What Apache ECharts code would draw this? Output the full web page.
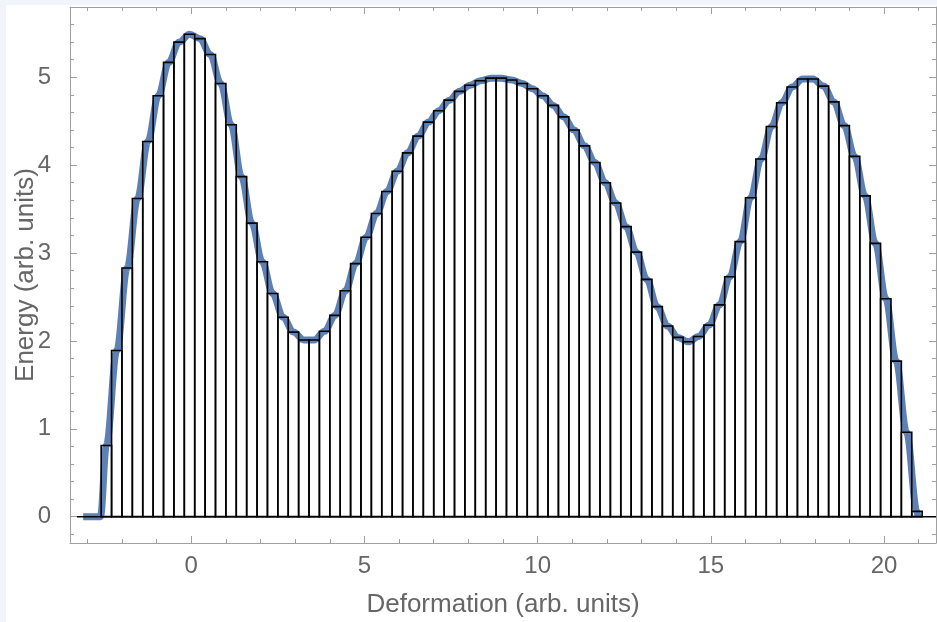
<!DOCTYPE html>
<html>
<head>
<meta charset="utf-8">
<script src="https://cdn.jsdelivr.net/npm/echarts@6/dist/echarts.min.js"></script>
<style>
  html, body { margin:0; padding:0; width:937px; height:622px; overflow:hidden; background:#f1f4fb; }
  #panel { position:absolute; left:6px; top:5px; right:0; bottom:0; background:#ffffff; }
  #chart { position:absolute; left:0; top:0; width:937px; height:622px; }
</style>
</head>
<body>
<div id="panel"></div>
<div id="chart"></div>
<script>
// ---- data ----
const barCenters = [
  -2.45, -2.15, -1.85, -1.55, -1.25, -0.95, -0.65, -0.35, -0.05, 0.25,
  0.55, 0.85, 1.15, 1.45, 1.75, 2.05, 2.35, 2.65, 2.95, 3.25,
  3.55, 3.85, 4.15, 4.45, 4.75, 5.05, 5.35, 5.65, 5.95, 6.25,
  6.55, 6.85, 7.15, 7.45, 7.75, 8.05, 8.35, 8.65, 8.95, 9.25,
  9.55, 9.85, 10.15, 10.45, 10.75, 11.05, 11.35, 11.65, 11.95, 12.25,
  12.55, 12.85, 13.15, 13.45, 13.75, 14.05, 14.35, 14.65, 14.95, 15.25,
  15.55, 15.85, 16.15, 16.45, 16.75, 17.05, 17.35, 17.65, 17.95, 18.25,
  18.55, 18.85, 19.15, 19.45, 19.75, 20.05, 20.35, 20.65, 20.95
];
const barHeights = [
  0.81, 1.89, 2.83, 3.62, 4.27, 4.79, 5.17, 5.40, 5.49, 5.44,
  5.26, 4.93, 4.46, 3.87, 3.34, 2.90, 2.54, 2.27, 2.10, 2.01,
  2.01, 2.11, 2.29, 2.57, 2.88, 3.18, 3.45, 3.70, 3.93, 4.14,
  4.33, 4.49, 4.62, 4.74, 4.84, 4.91, 4.96, 4.99, 4.99, 4.97,
  4.93, 4.87, 4.79, 4.68, 4.55, 4.40, 4.22, 4.03, 3.80, 3.57,
  3.30, 3.01, 2.70, 2.39, 2.17, 2.04, 1.99, 2.05, 2.18, 2.41,
  2.73, 3.13, 3.63, 4.07, 4.44, 4.71, 4.89, 4.98, 4.98, 4.90,
  4.72, 4.45, 4.10, 3.65, 3.11, 2.48, 1.77, 0.96, 0.06
];
// curve: flat start, then passes through the bar tops, ends on zero
const curveStartX = [-3.12, -2.62];
const curveStartY = [0, 0];
const curveEndX = [20.98];
const curveEndY = [0];
const zeroLineX = [-3.3, 21.5];

const xMajorTicks = [0, 5, 10, 15, 20];
const xMinorTicks = [-3, -2, -1, 1, 2, 3, 4, 6, 7, 8, 9, 11, 12, 13, 14, 16, 17, 18, 19, 21];
const yMajorTicks = [0, 1, 2, 3, 4, 5];
const yMinorTicks = [-0.2, 0.2, 0.4, 0.6, 0.8, 1.2, 1.4, 1.6, 1.8, 2.2, 2.4, 2.6, 2.8,
  3.2, 3.4, 3.6, 3.8, 4.2, 4.4, 4.6, 4.8, 5.2, 5.4, 5.6];

const xLabel = 'Deformation (arb. units)';
const yLabel = 'Energy (arb. units)';

// ---- build ----
const BIN = 0.3;
const FRAME = '#a0a0a0';
const TXT = '#666666';
const FONT = 'Liberation Sans, Arial, sans-serif';

const curveData = [];
for (let i = 0; i < curveStartX.length; i++) curveData.push([curveStartX[i], curveStartY[i]]);
for (let i = 0; i < barCenters.length; i++) curveData.push([barCenters[i], barHeights[i]]);
for (let i = 0; i < curveEndX.length; i++) curveData.push([curveEndX[i], curveEndY[i]]);

const barData = barCenters.map((c, i) => [c, barHeights[i]]);

function xAx(pos, ticks, len, labels, line, name) {
  return {
    type: 'value', position: pos, min: -3.5, max: 21.5,
    axisLine: { show: line, onZero: false, lineStyle: { color: FRAME, width: 1 } },
    axisTick: { show: true, inside: true, length: len, customValues: ticks, lineStyle: { color: FRAME, width: 1 } },
    axisLabel: labels ? { show: true, customValues: ticks, color: TXT, fontSize: 24, fontFamily: FONT, margin: 11 } : { show: false },
    splitLine: { show: false },
    name: name || '', nameLocation: 'middle', nameGap: 49, nameMoveOverlap: false,
    nameTextStyle: { color: TXT, fontSize: 26, fontFamily: FONT }
  };
}
function yAx(pos, ticks, len, labels, line, name) {
  return {
    type: 'value', position: pos, min: -0.3, max: 5.8,
    axisLine: { show: line, onZero: false, lineStyle: { color: FRAME, width: 1 } },
    axisTick: { show: true, inside: true, length: len, customValues: ticks, lineStyle: { color: FRAME, width: 1 } },
    axisLabel: labels ? { show: true, customValues: ticks, color: TXT, fontSize: 24, fontFamily: FONT, margin: 19 } : { show: false },
    splitLine: { show: false },
    name: name || '', nameLocation: 'middle', nameGap: 31, nameRotate: 90, nameMoveOverlap: false,
    nameTextStyle: { color: TXT, fontSize: 26, fontFamily: FONT }
  };
}

const chart = echarts.init(document.getElementById('chart'), null, { renderer: 'canvas' });
chart.setOption({
  backgroundColor: 'transparent',
  animation: false,
  grid: { left: 70, top: 7, right: 1, bottom: 79, containLabel: false, outerBoundsMode: 'none' },
  xAxis: [
    xAx('bottom', xMajorTicks, 7, true, true, xLabel),
    xAx('bottom', xMinorTicks, 4, false, false),
    xAx('top', xMajorTicks, 7, false, true),
    xAx('top', xMinorTicks, 4, false, false)
  ],
  yAxis: [
    yAx('left', yMajorTicks, 7, true, true, yLabel),
    yAx('left', yMinorTicks, 4, false, false),
    yAx('right', yMajorTicks, 7, false, true),
    yAx('right', yMinorTicks, 4, false, false)
  ],
  series: [
    {
      type: 'line', xAxisIndex: 0, yAxisIndex: 0, data: curveData,
      showSymbol: false, smooth: 0.35, smoothMonotone: 'x',
      lineStyle: { color: '#5E81B5', width: 7, cap: 'butt', join: 'round' },
      z: 1, silent: true
    },
    {
      type: 'line', xAxisIndex: 0, yAxisIndex: 0,
      data: zeroLineX.map(x => [x, 0]), showSymbol: false,
      lineStyle: { color: '#000', width: 1.5 }, z: 2, silent: true
    },
    {
      type: 'custom', xAxisIndex: 0, yAxisIndex: 0, data: barData, z: 3, silent: true,
      renderItem: function (params, api) {
        const c = api.value(0), h = api.value(1);
        const p0 = api.coord([c - BIN / 2, h]);
        const p1 = api.coord([c + BIN / 2, 0]);
        return {
          type: 'rect',
          shape: { x: p0[0], y: p0[1], width: p1[0] - p0[0], height: p1[1] - p0[1] },
          style: { fill: 'none', stroke: '#000', lineWidth: 1.6 }
        };
      }
    }
  ]
});
</script>
</body>
</html>
